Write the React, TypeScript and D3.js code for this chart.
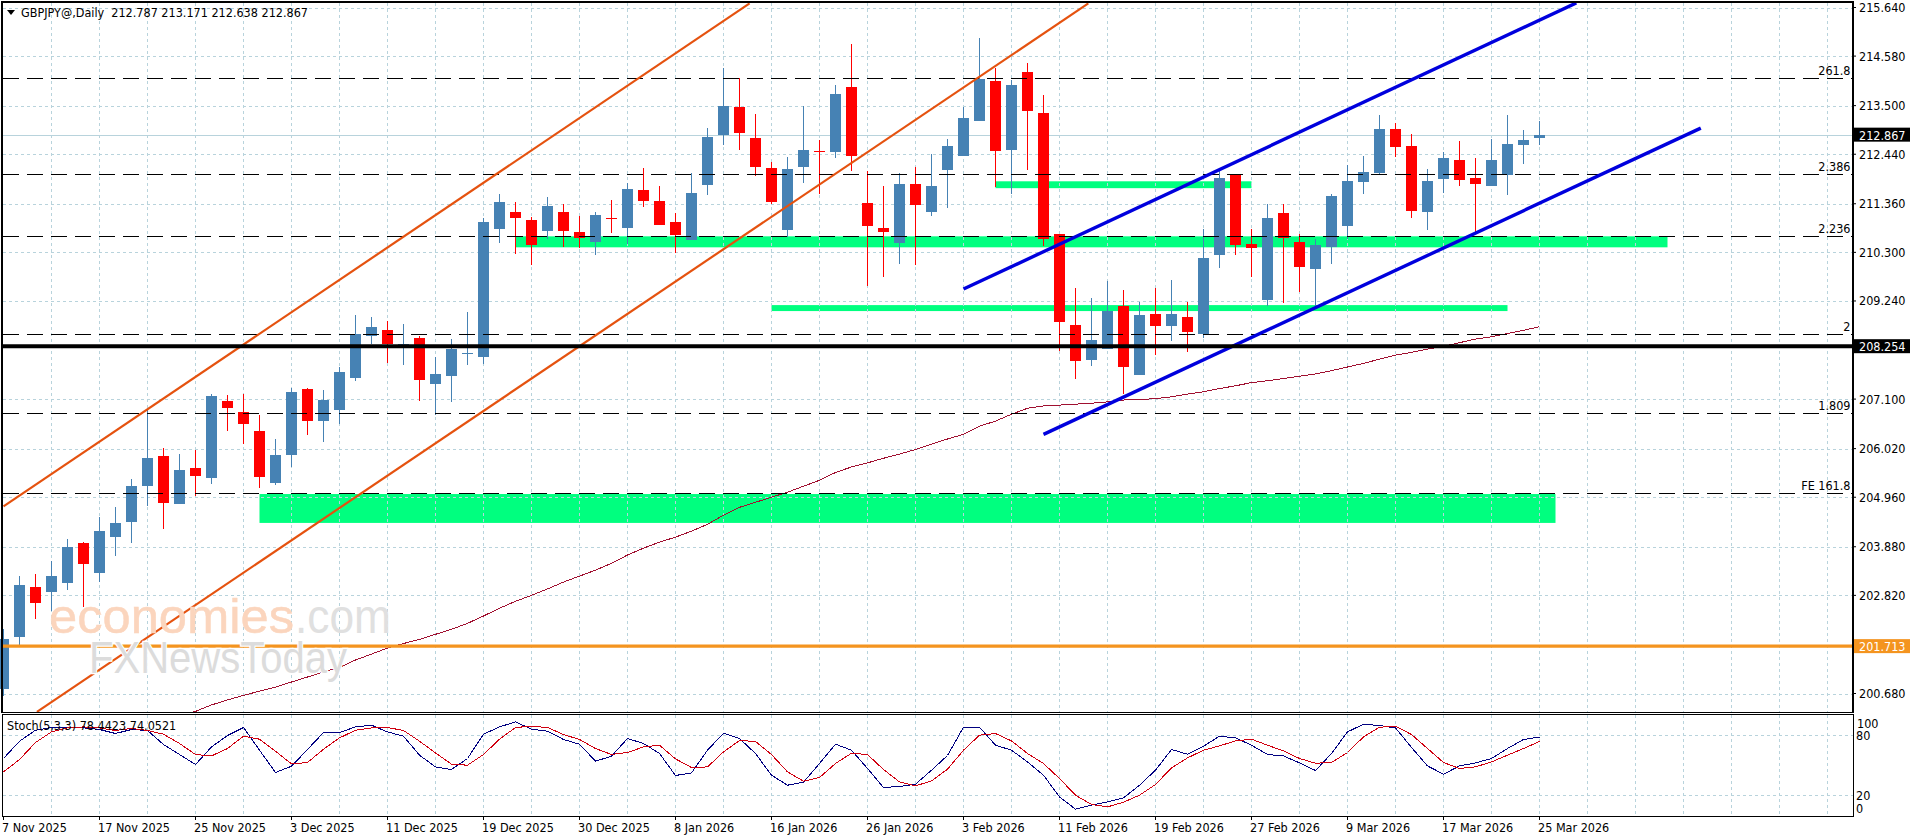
import React from "react";
import * as d3 from "d3";

const opens = [200.78,201.915,203.0,202.89,203.09,203.96,203.31,204.10,204.42,205.21,205.85,204.81,205.59,205.38,207.05,206.81,206.40,205.27,205.88,207.32,206.63,206.86,207.56,208.48,208.60,208.22,208.43,207.43,207.61,208.08,208.02,210.80,211.18,211.00,210.77,211.18,210.74,210.53,211.06,210.83,211.66,211.42,210.96,210.57,211.76,212.86,213.46,212.79,212.15,210.78,212.16,212.51,212.49,213.90,211.37,210.83,210.50,211.79,211.18,212.09,212.40,213.16,214.03,212.53,214.23,213.33,210.70,208.71,207.95,208.19,209.13,207.62,208.95,208.69,208.89,208.52,210.24,211.99,210.48,209.26,211.15,210.52,209.93,210.42,210.87,211.83,212.03,212.99,212.61,211.18,211.90,212.31,211.92,211.74,211.99,212.64,212.787];
const highs = [202.08,203.24,203.28,203.57,204.06,203.98,204.52,204.74,205.35,206.86,206.04,205.90,205.98,207.21,207.18,207.22,206.75,206.24,207.35,207.35,207.29,207.79,208.93,208.89,208.81,208.73,208.47,208.01,208.41,208.99,211.04,211.58,211.39,211.07,211.50,211.35,211.09,211.17,211.44,211.82,212.13,211.74,211.16,212.03,213.01,214.31,214.11,213.31,212.28,212.37,213.49,212.75,213.95,214.84,212.07,211.74,212.02,212.16,212.45,212.77,213.47,214.98,214.31,214.05,214.42,213.73,210.70,209.53,209.31,209.67,209.47,209.22,209.53,209.69,209.22,210.82,212.09,212.00,210.82,211.36,211.35,210.70,210.60,211.57,212.20,212.40,213.29,213.12,212.88,212.11,212.48,212.72,212.35,212.77,213.29,212.96,213.171];
const lows = [200.62,201.73,202.31,202.48,202.93,202.57,203.11,203.68,203.96,204.76,204.27,204.81,204.98,205.25,206.41,206.12,205.16,205.23,205.62,206.31,206.17,206.55,207.50,208.30,207.88,207.84,207.06,206.75,207.04,207.84,207.86,210.51,210.27,210.02,210.60,210.41,210.39,210.25,210.73,210.49,211.29,210.90,210.29,210.57,211.55,212.64,212.53,211.97,211.35,210.64,211.82,211.57,212.36,212.08,209.57,209.77,210.04,210.02,211.09,211.26,212.40,213.16,211.73,211.57,212.09,210.44,208.15,207.53,207.82,208.19,207.21,207.62,208.06,208.36,208.13,208.44,209.97,210.24,209.77,209.13,209.20,209.43,209.13,210.04,210.59,211.57,211.98,212.38,211.04,210.78,211.59,211.74,210.75,211.74,211.55,212.22,212.638];
const closes = [201.86,203.04,202.66,203.24,203.87,203.51,204.22,204.39,205.20,205.81,204.84,205.55,205.43,207.16,206.90,206.56,205.40,205.88,207.25,206.63,207.08,207.69,208.52,208.67,208.30,208.30,207.51,207.64,208.19,208.10,210.96,211.39,211.04,210.46,211.31,210.77,210.62,211.12,211.03,211.68,211.42,210.90,210.68,211.59,212.81,213.49,212.90,212.16,211.39,212.11,212.53,212.49,213.75,212.40,210.87,210.74,211.79,211.33,211.74,212.61,213.23,214.08,212.51,213.95,213.38,210.59,208.78,207.93,208.38,209.02,207.80,208.93,208.69,208.95,208.56,210.17,211.92,210.46,210.39,211.04,210.62,209.98,210.46,211.52,211.85,212.05,212.99,212.59,211.20,211.85,212.35,211.87,211.79,212.31,212.66,212.75,212.867];

// moving average, first value belongs to bar 11
const maStart = 11;
const maValues = [200.19,200.29,200.43,200.54,200.64,200.73,200.82,200.93,201.04,201.15,201.25,201.41,201.54,201.67,201.77,201.86,201.97,202.08,202.21,202.37,202.54,202.69,202.82,202.96,203.11,203.24,203.37,203.52,203.70,203.85,203.98,204.09,204.22,204.37,204.57,204.74,204.85,204.96,205.07,205.20,205.33,205.50,205.62,205.71,205.81,205.90,206.00,206.12,206.23,206.33,206.51,206.62,206.77,206.90,206.95,206.97,206.99,207.01,207.04,207.08,207.09,207.11,207.15,207.21,207.26,207.33,207.39,207.46,207.50,207.55,207.60,207.65,207.72,207.80,207.88,207.97,208.06,208.12,208.19,208.25,208.33,208.41,208.46,208.53,208.60,208.68];

const stochK = [57,74.3,85.3,88,88,87.6,86,82,86,85,71,61,51,68.6,80,88,65.3,43,49.3,66,83,83,88.6,90.3,83.6,79.3,60.3,48.6,46,57,81.3,88.6,93.6,86.3,84.3,76,71.3,54.3,59.3,77,72,62,40,42.6,65.3,82.3,77,62,40.3,30.3,33.3,52,71.3,65.3,47,28,29,31.3,45.3,60,88.3,88.3,70.3,65.3,53.6,40.3,18.6,6.3,10.3,13.6,17.6,30.3,45.3,66,61.3,69.3,79.3,77.6,70.3,61,59.6,52.6,45,62,83.6,91.3,90,87.6,68,49.6,41.3,49.6,52.6,57,67,76,78.44];
const stochD = [43.6,56,73,83.6,87.6,88.6,87.6,85,87,85,81.3,72,61,59.6,67,79.3,76.3,64.3,51.6,53,66.3,77.6,85.3,87.6,88,85,74.3,62.6,51.3,50.3,61,76.3,88,89.3,88,81,76,67,61,63,68.6,70.3,56.6,48,48.6,63.6,75,74,61,43.6,34.3,38,52,62.3,61,46,33.6,29.6,34.6,46.3,65.3,80.3,82,74.6,62,52,37,20.3,11,8.6,13.3,20.3,31,47.6,57.6,65.3,69.6,74.6,76.3,70.3,64.6,57,52.3,53,63,78.6,88.3,89.3,81,67,53,47,48.6,53.6,60.3,67,74.05];

const dateLabels = ["7 Nov 2025","17 Nov 2025","25 Nov 2025","3 Dec 2025","11 Dec 2025","19 Dec 2025","30 Dec 2025","8 Jan 2026","16 Jan 2026","26 Jan 2026","3 Feb 2026","11 Feb 2026","19 Feb 2026","27 Feb 2026","9 Mar 2026","17 Mar 2026","25 Mar 2026"];
const priceTicks = [215.64,214.58,213.5,212.44,211.36,210.3,209.24,207.1,206.02,204.96,203.88,202.82,200.68];

const fibPrices = [214.11,212.0,210.65,208.51,206.79,205.06];
const fibNames = ["261.8","2.386","2.236","2","1.809","FE 161.8"];

const zoneFrom = [16,32,48,62];
const zoneTo = [97,104,94,78];
const zoneTop = [205.03,210.65,209.15,211.85];
const zoneBottom = [204.40,210.41,209.02,211.70];

const orangeLines = [[0,204.76,46.63,215.73],[2.09,200.28,67.8,215.73]];
const blueLines = [[60,209.50,98.3,215.74],[65,206.33,106.08,213.01]];

const lastPrice = 212.867;
const blackLevel = 208.254;
const orangeLevel = 201.713;

const FONT = "'DejaVu Sans Condensed','DejaVu Sans',sans-serif";
const FS = 12.5;
const RIGHT = 1853;
const LEFT = 2.5;
const TOP = 2.5;
const MAIN_BOTTOM = 712.5;
const SUB_TOP = 714.5;
const SUB_BOTTOM = 816.5;
const GRID = "#b8d3dc";

const x = d3.scaleLinear().domain([0, 96]).range([3.5, 1539.5]);
const y = d3.scaleLinear().domain([200.68, 215.64]).range([693.5, 7.5]);
const s = d3.scaleLinear().domain([0, 100]).range([815.5, 715.5]);

const up = "#4682b4";
const down = "#ff0000";

const verticals = d3.range(1, 39).map((k) => x(0) + 48 * k);
const fmt = d3.format(".3f");

export default function App() {
  const maLine = d3.line<number>().x((_, i) => x(i + maStart)).y((d) => y(d));
  const sLine = d3.line<number>().x((_, i) => x(i)).y((d) => s(d));
  const tag = (p: number, fill: string) => (
    <g key={p}>
      <rect x={RIGHT + 1} y={y(p) - 7} width={56} height={14} fill={fill} />
      <text x={RIGHT + 6} y={y(p) + 5} fill="#fff" fontSize={FS} fontFamily={FONT}>{fmt(p)}</text>
    </g>
  );
  return (
    <svg width={1916} height={840} style={{ position: "absolute", left: 0, top: 0, display: "block", background: "#fff" }}>
      <defs>
        <clipPath id="main"><rect x={LEFT} y={TOP} width={RIGHT - LEFT} height={MAIN_BOTTOM - TOP} /></clipPath>
        <clipPath id="sub"><rect x={LEFT} y={SUB_TOP} width={RIGHT - LEFT} height={SUB_BOTTOM - SUB_TOP} /></clipPath>
      </defs>

      {/* zones */}
      <g fill="#00ff7f">
        {zoneFrom.map((f, i) => (
          <rect key={i} x={x(f)} width={x(zoneTo[i]) - x(f)} y={y(zoneTop[i])} height={y(zoneBottom[i]) - y(zoneTop[i])} />
        ))}
      </g>

      {/* grid */}
      <g stroke={GRID} strokeWidth={1} strokeDasharray="3 3" shapeRendering="crispEdges">
        {verticals.map((v) => (
          <g key={v}>
            <line x1={v} x2={v} y1={TOP} y2={MAIN_BOTTOM} />
            <line x1={v} x2={v} y1={SUB_TOP} y2={SUB_BOTTOM} />
          </g>
        ))}
        {priceTicks.map((p) => (
          <line key={p} x1={LEFT} x2={RIGHT} y1={Math.round(y(p)) + 0.5} y2={Math.round(y(p)) + 0.5} />
        ))}
        {[20, 80].map((v) => <line key={v} x1={LEFT} x2={RIGHT} y1={s(v)} y2={s(v)} />)}
      </g>
      <line x1={LEFT} x2={RIGHT} y1={Math.round(y(lastPrice)) + 0.5} y2={Math.round(y(lastPrice)) + 0.5} stroke={GRID} shapeRendering="crispEdges" />

      {/* candles */}
      <g shapeRendering="crispEdges">
        {opens.map((o, i) => {
          const c = closes[i];
          const col = c >= o ? up : down;
          const t = Math.round(y(Math.max(o, c)));
          const b = Math.round(y(Math.min(o, c)));
          return (
            <g key={i}>
              <line x1={x(i)} x2={x(i)} y1={y(highs[i])} y2={y(lows[i])} stroke={col} />
              <rect x={x(i) - 5.5} width={11} y={t} height={Math.max(1, b - t)} fill={col} />
            </g>
          );
        })}
      </g>

      <g clipPath="url(#main)">
        <path d={maLine(maValues)!} fill="none" stroke="#a01030" strokeWidth={1} shapeRendering="crispEdges" />
        {/* fib levels */}
        <g stroke="#000" strokeWidth={1} strokeDasharray="16 8" shapeRendering="crispEdges">
          {fibPrices.map((p) => (
            <line key={p} x1={LEFT} x2={RIGHT} y1={Math.round(y(p)) + 0.5} y2={Math.round(y(p)) + 0.5} />
          ))}
        </g>
        {orangeLines.map((l, i) => (
          <line key={i} x1={x(l[0])} y1={y(l[1])} x2={x(l[2])} y2={y(l[3])} stroke="#e5520f" strokeWidth={2.2} />
        ))}
        {blueLines.map((l, i) => (
          <line key={i} x1={x(l[0])} y1={y(l[1])} x2={x(l[2])} y2={y(l[3])} stroke="#0000dd" strokeWidth={3.4} />
        ))}
        <line x1={LEFT} x2={RIGHT} y1={y(blackLevel)} y2={y(blackLevel)} stroke="#000" strokeWidth={4} />
        <line x1={LEFT} x2={RIGHT} y1={y(orangeLevel)} y2={y(orangeLevel)} stroke="#f4941f" strokeWidth={3.4} />
      </g>

      {/* watermark */}
      <g fontFamily="'Liberation Sans',Arial,sans-serif">
        <text x={49} y={633} fontSize={48} fill="#fbd5bd" stroke="#fbd5bd" strokeWidth={0.5} textLength={245} lengthAdjust="spacingAndGlyphs">economies</text>
        <text x={295} y={633} fontSize={48} fill="#e0e0e0" textLength={96} lengthAdjust="spacingAndGlyphs">.com</text>
        <text x={89} y={673} fontSize={44} fill="#dcdcdc" stroke="#fff" strokeWidth={2.5} paintOrder="stroke" textLength={258} lengthAdjust="spacingAndGlyphs">FXNewsToday</text>
      </g>

      {/* stochastic */}
      <g clipPath="url(#sub)" fill="none" strokeWidth={1} shapeRendering="crispEdges">
        <path d={sLine(stochK)!} stroke="#000080" />
        <path d={sLine(stochD)!} stroke="#d00010" />
      </g>

      {/* frame */}
      <g stroke="#000" fill="none" shapeRendering="crispEdges">
        <rect x={2} y={2} width={RIGHT - 2} height={MAIN_BOTTOM - 2} strokeWidth={1.5} />
        <rect x={2} y={SUB_TOP} width={RIGHT - 2} height={SUB_BOTTOM - SUB_TOP} strokeWidth={1} />
      </g>

      {/* price axis */}
      <g fontFamily={FONT} fontSize={FS} fill="#000">
        {priceTicks.map((p) => (
          <g key={p}>
            <line x1={RIGHT} x2={RIGHT + 3} y1={y(p)} y2={y(p)} stroke="#000" />
            <text x={RIGHT + 6} y={y(p) + 4.5}>{fmt(p)}</text>
          </g>
        ))}
        {fibPrices.map((p, i) => (
          <text key={p} x={1850.5} y={y(p) - 3} textAnchor="end">{fibNames[i]}</text>
        ))}
      </g>
      {tag(lastPrice, "#000")}
      {tag(blackLevel, "#000")}
      {tag(orangeLevel, "#f4941f")}

      {/* stoch axis */}
      <g fontFamily={FONT} fontSize={FS} fill="#000">
        <text x={RIGHT + 4} y={728}>100</text>
        <text x={RIGHT + 3} y={740}>80</text>
        <text x={RIGHT + 3} y={800}>20</text>
        <text x={RIGHT + 3} y={813}>0</text>
      </g>

      {/* date axis */}
      <g fontFamily={FONT} fontSize={FS} fill="#000">
        {dateLabels.map((d, i) => (
          <g key={d}>
            <line x1={x(i * 6)} x2={x(i * 6)} y1={SUB_BOTTOM} y2={SUB_BOTTOM + 3} stroke="#000" shapeRendering="crispEdges" />
            <text x={x(i * 6) - 1.5} y={832}>{d}</text>
          </g>
        ))}
      </g>

      {/* titles */}
      <path d={d3.line()([[7, 10], [15, 10], [11, 15]])! + "Z"} fill="#000" />
      <text x={21} y={17} fontFamily={FONT} fontSize={FS} fill="#000" xmlSpace="preserve">GBPJPY@,Daily  212.787 213.171 212.638 212.867</text>
      <text x={7} y={730} fontFamily={FONT} fontSize={FS} fill="#000">Stoch(5,3,3) 78.4423 74.0521</text>
    </svg>
  );
}
